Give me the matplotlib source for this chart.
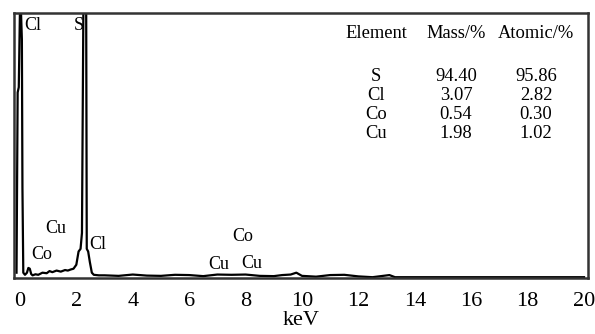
import matplotlib.pyplot as plt

plt.rcParams['font.family'] = ['Liberation Serif', 'DejaVu Serif']

# EDS spectrum (counts in % of the axis height)
energy = [-0.12, -0.08, -0.04, 0.0, 0.04, 0.07, 0.09, 0.12, 0.18, 0.25, 0.3, 0.35, 0.4,
          0.45, 0.55, 0.65, 0.8, 0.95, 1.05, 1.15, 1.3, 1.45, 1.6, 1.7, 1.8, 1.9, 2.0,
          2.08, 2.15, 2.2, 2.25, 2.28, 2.32, 2.35, 2.37, 2.42, 2.48, 2.55, 2.62, 2.8,
          3.0, 3.5, 4.0, 4.5, 5.0, 5.5, 6.0, 6.5, 7.0, 7.5, 8.0, 8.5, 9.0, 9.3, 9.6,
          9.8, 10.0, 10.5, 11.0, 11.5, 12.0, 12.5, 13.1, 13.3, 20.0]
counts = [2, 70, 72, 100, 100, 90, 34, 2, 1.2, 2.0, 3.8, 3.5, 1.5,
          1.0, 1.4, 1.2, 2.0, 1.8, 2.6, 2.2, 2.8, 2.4, 3.0, 2.8, 3.2, 3.5, 5.0,
          10.0, 11.0, 17.0, 101, 101, 101, 101, 11.0, 10.0, 6.0, 2.0, 1.2, 1.0,
          1.0, 0.8, 1.3, 0.9, 0.8, 1.2, 1.1, 0.7, 1.3, 1.2, 1.3, 0.8, 0.7, 1.1, 1.3,
          2.0, 0.8, 0.5, 1.1, 1.2, 0.6, 0.3, 1.1, 0.3, 0.3]

# peak labels: text, x (keV), y
peak_labels = [
    ("Cl", 0.14, 98.5), ("S", 1.92, 98.5),
    ("Cu", 1.28, 18.5), ("Co", 0.78, 8.7), ("Cl", 2.77, 12.5),
    ("Cu", 7.06, 5.0), ("Co", 7.9, 15.5), ("Cu", 8.23, 5.6),
]

elements = ["S", "Cl", "Co", "Cu"]
mass_pct = ["94.40", "3.07", "0.54", "1.98"]
atomic_pct = ["95.86", "2.82", "0.30", "1.02"]

fig = plt.figure(figsize=(5.95, 3.34), dpi=100)
ax = fig.add_axes([0.0235, 0.1677, 0.9647, 0.7934])
ax.plot(energy, counts, color="black", lw=1.6)
ax.set_xlim(-0.21, 20.14)
ax.set_ylim(0, 100)
ax.set_yticks([])
ax.set_xticks(range(0, 21, 2))
ax.tick_params(axis="x", length=0, labelsize=16, pad=10)
for s in ax.spines.values():
    s.set_linewidth(1.8)
    s.set_color("#333333")
ax.set_xlabel("keV", fontsize=16, labelpad=0)

for text, x, y in peak_labels:
    ha = "left" if y > 90 else "center"
    va = "top" if y > 90 else "center"
    ax.text(x, y, text, ha=ha, va=va, fontsize=13)

# composition table
fs = 13.3
cols = [12.62, 15.46, 18.30]
headers = ["Element", "Mass/%", "Atomic/%"]
columns = [elements, mass_pct, atomic_pct]
for x, head, col in zip(cols, headers, columns):
    ax.text(x, 92.1, head, ha="center", va="center", fontsize=fs)
    ax.text(x, 65.3, "\n".join(col), ha="center", va="center",
            multialignment="center", fontsize=fs, linespacing=1.15)

fig.savefig("out.png", dpi=100)
